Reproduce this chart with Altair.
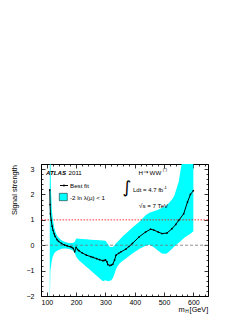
import altair as alt
import pandas as pd

# ---------------- data ----------------
m_fit = [110, 111, 112, 115, 118, 121, 125, 128, 135, 140, 150, 160, 170, 180, 185, 190, 195,
         200, 205, 210, 220, 235, 250, 258, 270, 280, 291, 295, 300, 305, 308, 315, 320, 325,
         331, 336, 345, 353, 370, 380, 392, 415, 437, 454, 465, 480, 493, 510, 527, 540, 550,
         567, 580, 590, 600]
mu_fit = [2.18, 1.6, 1.24, 0.98, 0.75, 0.59, 0.45, 0.35, 0.22, 0.15, 0.07, 0.01, -0.03, -0.06,
          -0.08, -0.12, -0.26, -0.08, -0.17, -0.22, -0.30, -0.39, -0.45, -0.48, -0.53, -0.57,
          -0.61, -0.60, -0.58, -0.65, -0.76, -0.80, -0.78, -0.75, -0.59, -0.39, -0.32, -0.26,
          -0.15, -0.05, 0.07, 0.33, 0.52, 0.63, 0.60, 0.52, 0.46, 0.48, 0.65, 0.82, 0.98, 1.24,
          1.70, 2.00, 2.15]

m_band = [110, 112, 114, 117, 120, 125, 130, 135, 140, 150, 160, 165, 175, 180, 185, 190, 195,
          200, 210, 220, 235, 250, 265, 280, 291, 300, 308, 315, 320, 325, 330, 336, 340, 348,
          360, 370, 392, 415, 437, 450, 465, 480, 493, 500, 510, 520, 527, 535, 550, 560, 570,
          590, 600]
band_hi = [3.6, 3.6, 2.2, 1.4, 1.05, 0.70, 0.50, 0.38, 0.30, 0.20, 0.14, 0.12, 0.09, 0.09, 0.09,
           0.10, 0.13, 0.27, 0.26, 0.25, 0.24, 0.22, 0.21, 0.20, 0.19, 0.18, 0.05, -0.07, -0.07,
           -0.07, -0.02, 0.08, 0.12, 0.22, 0.36, 0.46, 0.70, 0.92, 1.18, 1.28, 1.34, 1.40, 1.48,
           1.50, 1.58, 1.70, 1.80, 1.95, 2.50, 3.20, 3.60, 3.60, 3.60]
band_lo = [-2.4, -1.0, -0.85, -0.60, -0.45, -0.32, -0.26, -0.22, -0.19, -0.14, -0.13, -0.13,
           -0.15, -0.16, -0.19, -0.22, -0.30, -0.45, -0.60, -0.70, -0.85, -1.00, -1.15, -1.30,
           -1.42, -1.38, -1.42, -1.40, -1.38, -1.30, -1.15, -0.95, -0.85, -0.72, -0.60, -0.52,
           -0.33, -0.15, -0.02, 0.02, -0.08, -0.22, -0.33, -0.34, -0.33, -0.22, -0.15, -0.05,
           0.10, 0.20, 0.30, 0.45, 0.55]

x_major = [100, 200, 300, 400, 500, 600]
x_minor = [80, 120, 140, 160, 180, 220, 240, 260, 280, 320, 340, 360, 380, 420, 440, 460, 480,
           520, 540, 560, 580, 620, 640]
y_major = [-2, -1, 0, 1, 2, 3]
y_minor = [-1.8, -1.6, -1.4, -1.2, -0.8, -0.6, -0.4, -0.2, 0.2, 0.4, 0.6, 0.8, 1.2, 1.4, 1.6,
           1.8, 2.2, 2.4, 2.6, 2.8, 3.2]
ref_zero = [0]
ref_one = [1]

legend_texts = ["Best fit", "-2 ln λ(μ) < 1"]

FONT = "Liberation Sans, DejaVu Sans"
W, H = 167, 132

fit_df = pd.DataFrame({"m": m_fit, "mu": mu_fit})
band_df = pd.DataFrame({"m": m_band, "lo": band_lo, "hi": band_hi})

xs = alt.Scale(domain=[80, 650], nice=False, zero=False)
ys = alt.Scale(domain=[-2, 3.2], nice=False, zero=False)


def ax(orient, values, size, labels=False, **kw):
    return alt.Axis(orient=orient, values=values, tickSize=size, offset=-size, domain=False,
                    grid=False, labels=labels, title="", tickColor="black", tickWidth=0.8,
                    labelFont=FONT, labelFontSize=7, labelColor="black", **kw)


band = alt.Chart(band_df).mark_area(color="#00FFFF", clip=True).encode(
    x=alt.X("m:Q", scale=xs, axis=ax("bottom", x_major, 4, labels=True, labelPadding=2,
                                     labelFlush=False, labelOverlap=False)),
    y=alt.Y("lo:Q", scale=ys, axis=ax("left", y_major, 4, labels=True, labelPadding=7,
                                      labelFlush=False, labelOverlap=False)),
    y2="hi:Q",
)

zero_rule = alt.Chart(pd.DataFrame({"v": ref_zero})).mark_rule(
    color="#777777", strokeDash=[3, 2], strokeWidth=0.8).encode(
    y=alt.Y("v:Q", scale=ys, axis=None))
one_rule = alt.Chart(pd.DataFrame({"v": ref_one})).mark_rule(
    color="#FF0000", strokeDash=[1.5, 1.5], strokeWidth=0.8).encode(
    y=alt.Y("v:Q", scale=ys, axis=None))

fit_line = alt.Chart(fit_df).mark_line(color="black", strokeWidth=1, clip=True).encode(
    x=alt.X("m:Q", scale=xs, axis=ax("top", x_major, 4)),
    y=alt.Y("mu:Q", scale=ys, axis=ax("right", y_major, 4)),
)
fit_pts = alt.Chart(fit_df).mark_point(filled=True, size=3, color="black", opacity=1,
                                       clip=True).encode(
    x=alt.X("m:Q", scale=xs, axis=ax("bottom", x_minor, 2)),
    y=alt.Y("mu:Q", scale=ys, axis=ax("left", y_minor, 2)),
)
ghost = alt.Chart(fit_df).mark_line(opacity=0).encode(
    x=alt.X("m:Q", scale=xs, axis=ax("top", x_minor, 2)),
    y=alt.Y("mu:Q", scale=ys, axis=ax("right", y_minor, 2)),
)


def txt(s, x, y, size=6.2, weight="normal", style="normal", align="left",
        baseline="alphabetic", angle=0, font=FONT):
    return alt.Chart(pd.DataFrame({"t": [s]})).mark_text(
        font=font, fontSize=size, fontWeight=weight, fontStyle=style, align=align,
        baseline=baseline, angle=angle, color="black").encode(
        x=alt.value(x), y=alt.value(y), text="t:N")


texts = [
    txt("ATLAS", 5, 10.5, size=6.2, weight="bold", style="italic"),
    txt("2011", 27.5, 10.5, size=6.2),
    txt("H", 97.5, 10.5, size=6.2),
    txt("→", 102.2, 10.3, size=6.2, font="DejaVu Sans"),
    txt("WW", 108.6, 10.5, size=6.2),
    txt("(*)", 121.8, 7, size=4.2),
    txt("∫", 86, 24, size=17, align="center", baseline="middle", font="DejaVu Sans"),
    txt("Ldt = 4.7 fb", 92, 27.5, size=6),
    txt("-1", 122.2, 24.5, size=4.2),
    txt("√s = 7 TeV", 98, 43.5, size=6.2),
    txt(legend_texts[0], 29, 23.8, size=6.2),
    txt(legend_texts[1], 29, 35.8, size=6.2),
    txt("Signal strength", -25.7, 1, size=7.5, align="right", baseline="middle", angle=270),
    txt("m", 143.8, 147.5, size=7.5, align="right"),
    txt("H", 144.3, 149.3, size=4.8),
    txt("[GeV]", 148.6, 147.5, size=7.3),
]

leg_df = pd.DataFrame({"k": [0]})
leg_line = alt.Chart(leg_df).mark_rule(color="black", strokeWidth=1).encode(
    x=alt.value(19), x2=alt.value(27), y=alt.value(21.5))
leg_dot = alt.Chart(leg_df).mark_point(filled=True, size=4, color="black", opacity=1).encode(
    x=alt.value(23), y=alt.value(21.5))
leg_box = alt.Chart(leg_df).mark_rect(fill="#00FFFF", stroke="black", strokeWidth=0.5).encode(
    x=alt.value(18.3), x2=alt.value(26.3), y=alt.value(29.3), y2=alt.value(36.7))

chart = alt.layer(
    band, zero_rule, one_rule, fit_line, fit_pts, ghost, leg_line, leg_dot, leg_box, *texts
).resolve_axis(x="independent", y="independent").properties(
    width=W, height=H,
    autosize=alt.AutoSizeParams(type="none"),
    padding={"left": 33, "top": 156, "right": 33, "bottom": 18},
    background="white",
).configure_view(stroke="black", strokeWidth=1)

chart.save("out.html", embed_options={"renderer": "svg", "actions": False})
